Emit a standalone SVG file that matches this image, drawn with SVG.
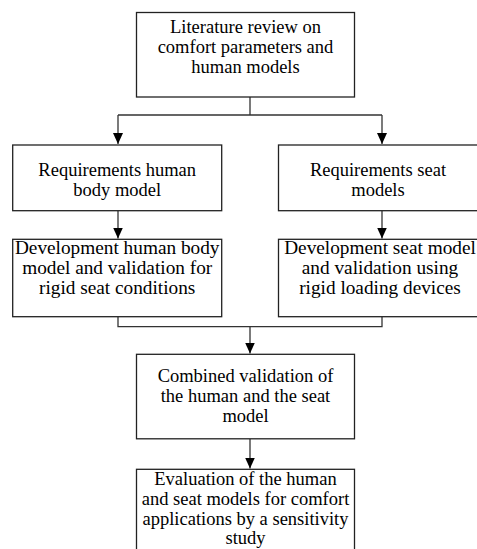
<svg xmlns="http://www.w3.org/2000/svg" width="477" height="549" viewBox="0 0 477 549">
<style>
.box{fill:#fff;stroke:#222;stroke-width:1.3}
.t{font-size:18.5px;fill:#000;text-anchor:middle}
.d{font-size:19.3px}
.c{fill:none;stroke:#333;stroke-width:1.3}
</style>
<defs>
<marker id="ah" viewBox="0 0 11 10" refX="11" refY="5" markerWidth="11" markerHeight="10" markerUnits="userSpaceOnUse" orient="auto">
<path d="M0,0 L11,5 L0,10 Z" fill="#000"/>
</marker>
</defs>
<rect width="477" height="549" fill="#fff"/>
<g id="connectors">
<path class="c" d="M250,97 V115 M118,115 H382"/>
<path class="c" d="M118,115 V144" marker-end="url(#ah)"/>
<path class="c" d="M382,115 V144" marker-end="url(#ah)"/>
<path class="c" d="M118,211 V238.5" marker-end="url(#ah)"/>
<path class="c" d="M382,211 V238.5" marker-end="url(#ah)"/>
<path class="c" d="M118,317 V326.7 H382 V317"/>
<path class="c" d="M250,326.7 V353.5" marker-end="url(#ah)"/>
<path class="c" d="M250,439 V468.5" marker-end="url(#ah)"/>
</g>
<g font-family="Liberation Serif, Times New Roman, DejaVu Serif, serif">
<g id="lit">
<rect class="box" x="136.5" y="12.5" width="218" height="84.5"/>
<text class="t" x="245.5" y="33">Literature review on</text>
<text class="t" x="245.5" y="53">comfort parameters and</text>
<text class="t" x="245.5" y="73">human models</text>
</g>
<g id="req-human">
<rect class="box" x="12.7" y="145" width="209" height="65.7"/>
<text class="t" x="117.2" y="176">Requirements human</text>
<text class="t" x="117.2" y="196">body model</text>
</g>
<g id="req-seat">
<rect class="box" x="278.5" y="145" width="200" height="65.7"/>
<text class="t" x="378" y="176">Requirements seat</text>
<text class="t" x="378" y="196">models</text>
</g>
<g id="dev-human">
<rect class="box" x="12.7" y="239.3" width="209" height="77.4"/>
<text class="t d" x="117.2" y="253.5">Development human body</text>
<text class="t d" x="117.2" y="273.5">model and validation for</text>
<text class="t d" x="117.2" y="294">rigid seat conditions</text>
</g>
<g id="dev-seat">
<rect class="box" x="278.5" y="239.3" width="200" height="77.4"/>
<text class="t d" x="380" y="253.5">Development seat model</text>
<text class="t d" x="380" y="273.5">and validation using</text>
<text class="t d" x="380" y="294">rigid loading devices</text>
</g>
<g id="combined">
<rect class="box" x="136.5" y="354.3" width="218" height="84.5"/>
<text class="t" x="245.5" y="381.7">Combined validation of</text>
<text class="t" x="245.5" y="401.7">the human and the seat</text>
<text class="t" x="245.5" y="421.7">model</text>
</g>
<g id="evaluation">
<rect class="box" x="136.5" y="469.3" width="218" height="95"/>
<text class="t" x="245.5" y="485">Evaluation of the human</text>
<text class="t" x="245.5" y="505">and seat models for comfort</text>
<text class="t" x="245.5" y="525">applications by a sensitivity</text>
<text class="t" x="245.5" y="544">study</text>
</g>
</g>
</svg>
